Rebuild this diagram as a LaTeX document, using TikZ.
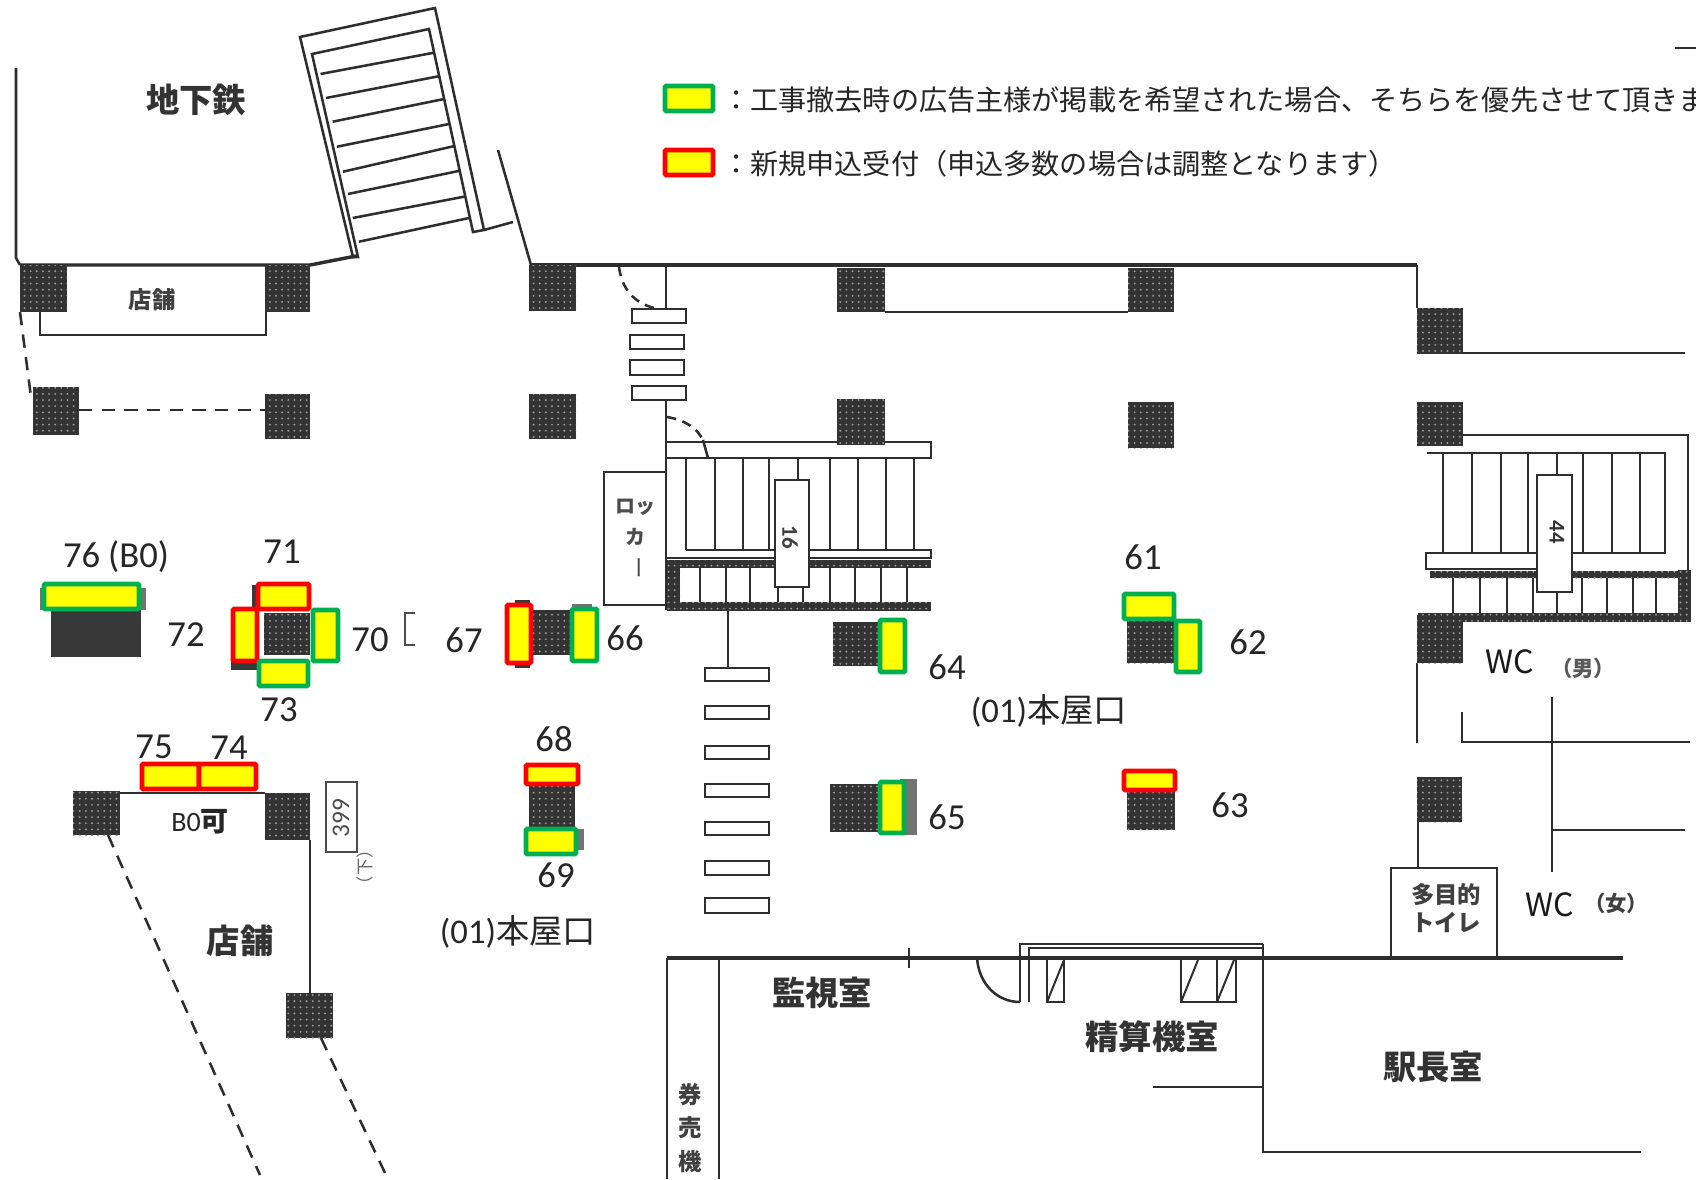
\documentclass[tikz,border=0pt]{standalone}
\usepackage{fontspec}
\setmainfont{Carlito}
\newfontfamily\jp{Noto Sans CJK JP}
\usetikzlibrary{patterns}
\definecolor{wallc}{HTML}{2E2E2E}
\definecolor{pilc}{HTML}{333333}
\definecolor{adgreen}{HTML}{00B050}
\definecolor{adred}{HTML}{FF0000}
\definecolor{adyel}{HTML}{FFFF00}
\pgfdeclarepatternformonly{pildots}{\pgfqpoint{-1pt}{-1pt}}{\pgfqpoint{1pt}{1pt}}{\pgfqpoint{4.6pt}{4.6pt}}{\pgfpathcircle{\pgfqpoint{0pt}{0pt}}{.8pt}\pgfusepath{fill}}
\tikzset{
 wall/.style={draw=wallc,line width=1.9pt},
 thin wall/.style={draw=wallc,line width=1.5pt},
 thick wall/.style={draw=wallc,line width=2.6pt},
 dashwall/.style={draw=wallc,line width=1.9pt,dash pattern=on 10pt off 7pt},
 adg/.style={draw=adgreen,fill=adyel,line width=3.7pt,rounded corners=1pt},
 adr/.style={draw=adred,fill=adyel,line width=3.7pt,rounded corners=1pt},
 num/.style={inner sep=0pt,text=black!85,font=\fontsize{27.5}{30}\selectfont},
 room/.style={inner sep=0pt,text=black!80,font=\jp\bfseries\fontsize{25}{28}\selectfont},
 smallroom/.style={inner sep=0pt,text=black!75,font=\jp\bfseries\fontsize{17.5}{20}\selectfont},
 legend/.style={inner sep=0pt,anchor=west,text=black!85,font=\jp\fontsize{21.1}{24}\selectfont},
 grayblk/.style={fill=black!55},
 darkblk/.style={fill=black!78},
}
\newcommand{\pil}[4]{\fill[pilc] (#1,#2) rectangle (#3,#4);
  \fill[pattern=pildots,pattern color=black!40] (#1,#2) rectangle (#3,#4);}
\begin{document}
\begin{tikzpicture}[x=0.75pt,y=-0.75pt]
\useasboundingbox (0,0) rectangle (1696,1179);
\fill[white] (0,0) rectangle (1696,1179);
% top right stub
\draw[wall] (1675,48) -- (1696,48);
% walls upper left
\draw[wall] (16,68) -- (16,258) -- (20,265);
\draw[thick wall] (20,265) -- (310,265) -- (356,256);
\draw[wall] (300,37) -- (435,8) -- (484,230) -- (473,232) -- (429,29) -- (312,54) -- (358,257) -- (353,257) -- cycle;
\foreach \a/\b/\c/\d in {320.5/74/434/52.7,326/98/440/76,332.6/121.7/444/99,337/146.7/449/124,343/171.7/454.5/146,348/194/460/170.7,352.7/218/464/196.7,359/241.7/469/218}
  \draw[wall] (\a,\b) -- (\c,\d);
\draw[wall] (484,230) -- (513,222);
\draw[wall] (498,150) -- (531,265);
\draw[thick wall] (531,265) -- (1417,265);
\draw[wall] (1417,265) -- (1417,308);
\draw[wall] (1463,353) -- (1685,353);
\draw[thin wall] (40,312) -- (40,335) -- (266,335) -- (266,312);
\draw[dashwall] (20,312) -- (31,397);
\draw[dashwall] (79,410) -- (265,410);
\draw[wall] (885,312) -- (1128,312);
% centre stairs
\draw[wall] (666,265) -- (666,308);
\draw[wall] (666,400) -- (666,610);
\foreach \yy/\yb/\xa/\xb in {309/323/632/686,335/349/630/684,360/375/630/684,386/400/632/686}
  \draw[wall] (\xa,\yy) rectangle (\xb,\yb);
\draw[dashwall,dash pattern=on 7pt off 5pt] (619,267) .. controls (622,290) and (635,303) .. (654,308);
\draw[dashwall,dash pattern=on 7pt off 5pt] (667,417) .. controls (685,420) and (697,428) .. (703,440);
\draw[wall] (703,440) -- (708,458);
\draw[wall] (667,442) -- (931,442) -- (931,458) -- (667,458);
\foreach \xx in {686,715,743,769,830,858,886,914} \draw[thin wall] (\xx,458) -- (\xx,550);
\draw[thin wall] (798,458) -- (798,480);
\draw[thin wall] (686,550) -- (931,550) -- (931,558) -- (667,558);
\pil{667}{560}{931}{568}
\pil{667}{602}{931}{611}
\pil{667}{560}{680}{611}
\foreach \xx in {700,726,750,778,803,830,855,881,907} \draw[thin wall] (\xx,568) -- (\xx,602);
\draw[wall,fill=white] (775,480) rectangle (809,587);
\node[inner sep=0pt,rotate=-90,text=black!75,font=\bfseries\fontsize{17}{19}\selectfont] (n16) at (790,537) {16};
\draw[thin wall] (665,472) -- (604,472) -- (604,605) -- (665,605);
\node[inner sep=0pt,text=black!70,font=\jp\bfseries\fontsize{15}{17}\selectfont] (lk1) at (635,507) {ロッ};
\node[inner sep=0pt,text=black!70,font=\jp\bfseries\fontsize{15}{17}\selectfont] (lk2) at (635,537) {カ};
\node[inner sep=0pt,rotate=-90,text=black!70,font=\jp\fontsize{17}{19}\selectfont] (lk3) at (635,568) {ー};
\draw[wall] (728,611) -- (728,668);
\foreach \yy/\yb in {668/681,706/719,746/759,784/797,822/835,861/875,898/913}
  \draw[wall] (705,\yy) rectangle (769,\yb);
% right stairs
\draw[wall] (1463,435) -- (1688,435) -- (1688,570);
\draw[wall] (1427,453) -- (1665,453) -- (1665,553) -- (1533,553) -- (1426,553) -- (1426,569) -- (1537,569);
\foreach \xx in {1443,1472,1501,1528,1583,1612,1640} \draw[thin wall] (\xx,453) -- (\xx,553);
\draw[thin wall] (1557,453) -- (1557,475);
\pil{1430}{571}{1690}{578}
\pil{1418}{613}{1691}{622}
\pil{1678}{570}{1691}{622}
\foreach \xx in {1453,1480,1507,1533,1557,1582,1607,1633,1656} \draw[thin wall] (\xx,578) -- (\xx,613);
\draw[wall,fill=white] (1537,475) rectangle (1572,592);
\node[inner sep=0pt,rotate=-90,text=black!80,font=\bfseries\fontsize{17}{19}\selectfont] (n44) at (1557,532) {44};
\draw[wall] (1417,663) -- (1417,743);
\draw[thin wall] (1462,712) -- (1462,742) -- (1690,742);
\draw[wall] (1552,697) -- (1552,872);
\draw[thin wall] (1552,830) -- (1685,830);
\draw[wall] (1418,822) -- (1418,868);
\draw[thin wall] (1391,958) -- (1391,868) -- (1497,868) -- (1497,958);
% bottom rooms
\draw[thick wall] (667,958) -- (1623,958);
\draw[wall] (667,958) -- (667,1179);
\draw[wall] (719,958) -- (719,1179);
\draw[wall] (909,948) -- (909,968);
\draw[wall] (977,958) .. controls (979,985) and (998,1002) .. (1020,1002);
\draw[wall] (1020,1002) -- (1020,944) -- (1263,944);
\draw[wall] (1029,1002) -- (1029,948) -- (1263,948);
\draw[wall] (1263,944) -- (1263,1152) -- (1641,1152);
\draw[thin wall] (1047,958) rectangle (1064,1002);
\draw[thin wall] (1047,1002) -- (1064,960);
\draw[thin wall] (1181,958) rectangle (1236,1002);
\draw[thin wall] (1217,958) -- (1217,1002);
\draw[thin wall] (1181,1002) -- (1198,960);
\draw[thin wall] (1217,1002) -- (1234,960);
\draw[wall] (1153,1087) -- (1263,1087);
% lower left
\draw[wall] (120,793) -- (265,793);
\draw[wall] (310,840) -- (310,993);
\draw[dashwall] (108,835) -- (260,1175);
\draw[dashwall] (321,1038) -- (386,1175);
\draw[thin wall,draw=black!70] (326,782) rectangle (357,852);
\draw[draw=black!70,line width=2pt] (415,613) -- (405,613) -- (405,645) -- (415,645);
% pillars
\pil{20}{265}{67}{312}
\pil{265}{265}{310}{312}
\pil{529}{265}{576}{311}
\pil{33}{387}{79}{435}
\pil{265}{394}{310}{439}
\pil{529}{394}{576}{439}
\pil{837}{268}{885}{312}
\pil{1128}{268}{1174}{312}
\pil{1417}{308}{1463}{354}
\pil{837}{399}{885}{445}
\pil{1128}{402}{1174}{448}
\pil{1417}{402}{1463}{446}
\pil{1417}{615}{1463}{663}
\pil{1417}{777}{1462}{822}
\pil{833}{622}{878}{666}
\pil{830}{784}{878}{832}
\pil{1127}{617}{1175}{663}
\pil{1127}{787}{1175}{830}
\pil{533}{610}{571}{655}
\pil{529}{785}{575}{828}
\pil{264}{613}{310}{655}
\pil{73}{791}{120}{835}
\pil{265}{793}{310}{840}
\pil{286}{993}{333}{1038}
% blocks behind ads
\fill[darkblk] (51,610) rectangle (141,657);
\fill[grayblk] (40,588) rectangle (146,610);
\fill[darkblk] (231,655) rectangle (257,670);
\fill[darkblk] (252,585) rectangle (258,612);
\fill[darkblk] (515,600) rectangle (530,668);
\fill[grayblk] (572,604) rectangle (592,610);
\fill[grayblk] (578,829) rectangle (584,850);
\fill[grayblk] (900,779) rectangle (917,835);
% ads
\draw[adg] (44,584) rectangle (139,609);
\draw[adr] (258,584) rectangle (309,609);
\draw[adr] (233,609) rectangle (257,661);
\draw[adg] (313,610) rectangle (338,661);
\draw[adg] (259,661) rectangle (308,686);
\draw[adr] (507,605) rectangle (531,663);
\draw[adg] (572,609) rectangle (597,661);
\draw[adr] (526,765) rectangle (578,784);
\draw[adg] (526,829) rectangle (576,854);
\draw[adr] (142,764) rectangle (199,789);
\draw[adr] (199,764) rectangle (256,789);
\draw[adg] (880,620) rectangle (905,672);
\draw[adg] (880,782) rectangle (904,833);
\draw[adg] (1124,594) rectangle (1174,619);
\draw[adg] (1176,621) rectangle (1200,672);
\draw[adr] (1124,771) rectangle (1175,790);
% legend
\draw[adg] (665,86) rectangle (713,111);
\draw[adr] (665,150) rectangle (713,175);
\node[legend] (lg1) at (722,100) {：工事撤去時の広告主様が掲載を希望された場合、そちらを優先させて頂きま};
\node[legend] (lg2) at (722,164) {：新規申込受付（申込多数の場合は調整となります）};
% numbers
\node[num] (t76) at (116,557) {76\kern6pt(B0)};
\node[num] (t71) at (282,552) {71};
\node[num] (t72) at (186,635) {72};
\node[num] (t70) at (370,640) {70};
\node[num] (t73) at (279,710) {73};
\node[num] (t75) at (154,747) {75};
\node[num] (t74) at (229,748) {74};
\node[num] (t67) at (464,640) {67};
\node[num] (t66) at (625,638) {66};
\node[num] (t68) at (554,739) {68};
\node[num] (t69) at (556,875) {69};
\node[num] (t64) at (947,667) {64};
\node[num] (t65) at (947,817) {65};
\node[num] (t61) at (1143,557) {61};
\node[num] (t62) at (1248,642) {62};
\node[num] (t63) at (1230,805) {63};
% room labels
\node[room] (r1) at (196,100) {地下鉄};
\node[smallroom] (r2) at (152,300) {店舗};
\node[room] (r3) at (240,941) {店舗};
\node[room] (r4) at (822,993) {監視室};
\node[room] (r5) at (1152,1037) {精算機室};
\node[room] (r6) at (1433,1067) {駅長室};
\node[smallroom] (r7a) at (690,1095) {券};
\node[smallroom] (r7b) at (690,1128) {売};
\node[smallroom] (r7c) at (690,1162) {機};
\node[smallroom] (r8a) at (1446,895) {多目的};
\node[smallroom] (r8b) at (1446,923) {トイレ};
\node[smallroom,text=black!90,font=\jp\fontsize{24}{26}\selectfont] (r9a) at (1510,662) {WC};
\node[smallroom,text=black!65,font=\jp\bfseries\fontsize{16}{18}\selectfont] (r9b) at (1583,668) {（男）};
\node[smallroom,text=black!90,font=\jp\fontsize{24}{26}\selectfont] (r10a) at (1550,905) {WC};
\node[smallroom,text=black!75,font=\jp\bfseries\fontsize{16}{18}\selectfont] (r10b) at (1616,903) {（女）};
\node[inner sep=0pt,text=black!85,font=\fontsize{26}{28}\selectfont] (e1) at (1049,711) {(01){\jp\fontsize{25}{28}\selectfont 本屋口}};
\node[inner sep=0pt,text=black!85,font=\fontsize{26}{28}\selectfont] (e2) at (518,932) {(01){\jp\fontsize{25}{28}\selectfont 本屋口}};
\node[inner sep=0pt,text=black!85,font=\fontsize{21}{23}\selectfont] (b0) at (200,822) {B0{\jp\bfseries\fontsize{21}{23}\selectfont 可}};
\node[inner sep=0pt,rotate=90,text=black!70,font=\fontsize{19}{21}\selectfont] (n399) at (341,818) {399};
\node[inner sep=0pt,rotate=90,text=black!60,font=\jp\fontsize{13}{15}\selectfont] (dn) at (365,867) {（下）};
\end{tikzpicture}
\end{document}
